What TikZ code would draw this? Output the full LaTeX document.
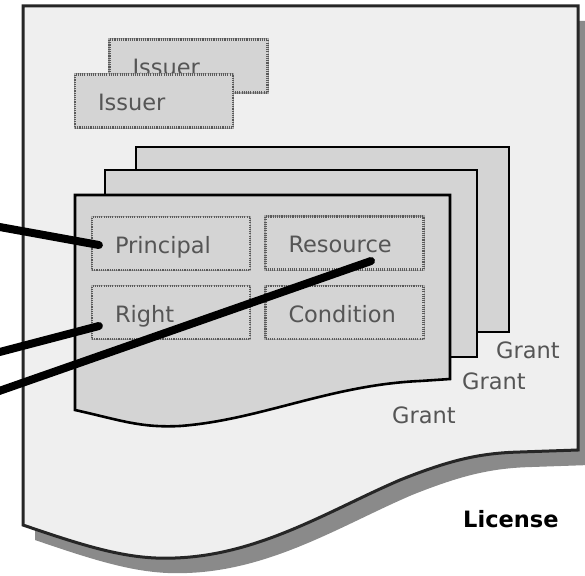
\documentclass[tikz,border=0pt]{standalone}
\usepackage{fontspec}
\setmainfont{DejaVu Sans}
\usetikzlibrary{calc}
\definecolor{licfill}{HTML}{EFEFEF}
\definecolor{cardfill}{HTML}{D4D4D4}
\definecolor{boxfill}{HTML}{D4D4D4}
\definecolor{boxline}{HTML}{5A5A5A}
\definecolor{boxband}{HTML}{A8A8A8}
\definecolor{txtgray}{HTML}{555555}
\definecolor{shadowgray}{HTML}{8A8A8A}
\begin{document}
\begin{tikzpicture}[x=1pt,y=-1pt,
  lbl/.style={font=\fontsize{22.5}{27}\selectfont, text=txtgray, inner sep=0pt, anchor=base west},
  partbox/.style={draw=boxline, line width=2.2pt, dash pattern=on 1.1pt off 1.1pt, fill=boxfill,
    preaction={draw=boxband, line width=2.2pt, solid},
    font=\fontsize{22.5}{27}\selectfont, text=txtgray, text width=#1, align=left,
    inner xsep=23pt, inner ysep=0pt, minimum height=53pt, text height=19pt, text depth=0pt},
  partbox/.default=112pt,
  card/.style={draw=black, line width=2.6pt, fill=cardfill, line join=miter},
  connector/.style={draw=black, line width=8pt, line cap=round}]
\useasboundingbox (0,0) rectangle (585,575);
% license shadow
\fill[shadowgray, shift={(12,15)}] (23,6) -- (578,6) -- (578,450) -- (520,452)
  .. controls (480,453) and (450,460) .. (400,480)
  .. controls (330,510) and (260,555) .. (175,558)
  .. controls (130,560) and (90,548) .. (23,525) -- cycle;
% license
\filldraw[fill=licfill, draw=black!85, line width=3pt] (23,6) -- (578,6) -- (578,450) -- (520,452)
  .. controls (480,453) and (450,460) .. (400,480)
  .. controls (330,510) and (260,555) .. (175,558)
  .. controls (130,560) and (90,548) .. (23,525) -- cycle;
% issuers
\node[partbox] (issuer2) at (188.5,66) {Issuer};
\node[partbox] (issuer1) at (154,101) {Issuer};
% grant cards
\filldraw[card] (136,147) rectangle (509,332);
\filldraw[card] (105,170) rectangle (477,357);
\filldraw[card] (75,195) -- (450,195) -- (450,379) -- (420,381)
  .. controls (330,385) and (260,420) .. (180,426)
  .. controls (140,428) and (120,420) .. (75,410) -- cycle;
% parts
\node[partbox] (principal) at (171,243.5) {Principal};
\node[partbox] (resource) at (344.5,243) {Resource};
\node[partbox] (right) at (171,312.5) {Right};
\node[partbox] (condition) at (344.5,312.5) {Condition};
% labels
\node[lbl] (grant3) at (496,358) {Grant};
\node[lbl] (grant2) at (462,389) {Grant};
\node[lbl] (grant1) at (392,423) {Grant};
\node[lbl, text=black, font=\fontsize{22.5}{27}\selectfont\bfseries] (license) at (463,527) {License};
% connectors
\coordinate (p0) at (-8,225.6);
\coordinate (r0) at (-8,354);
\coordinate (s0) at (-8,393.5);
\draw[connector] (p0) -- ($(principal.west)+(8,1.5)$);
\draw[connector] (r0) -- ($(right.west)+(8,13.5)$);
\draw[connector] (s0) -- ($(resource.center)+(26.5,18)$);
\end{tikzpicture}
\end{document}
